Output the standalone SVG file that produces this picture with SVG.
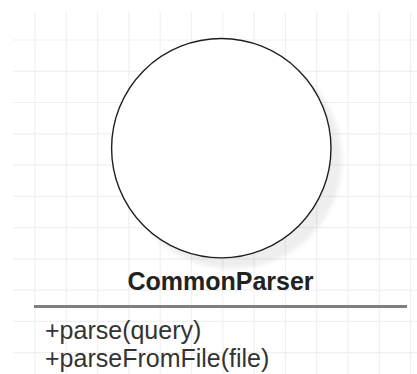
<svg xmlns="http://www.w3.org/2000/svg" width="417" height="374" viewBox="0 0 417 374">
  <style>
    .grid { stroke: #f0f0f0; stroke-width: 1.2; fill: none; }
    .circ { fill: #ffffff; stroke: #1e1e1e; stroke-width: 1.4; }
    .title { font-family: "Liberation Sans", Arial, sans-serif; font-size: 25px; font-weight: bold; fill: #222222; }
    .member { font-family: "Liberation Sans", Arial, sans-serif; font-size: 25px; fill: #333333; }
    .sep { stroke: #7f7f7f; stroke-width: 3; }
  </style>
  <defs>
    <filter id="blur" x="-20%" y="-20%" width="140%" height="140%">
      <feGaussianBlur stdDeviation="2"/>
    </filter>
  </defs>
  <rect width="417" height="374" fill="#ffffff"/>
  <g id="grid">
    <path class="grid" d="M35 12V374M66.3 12V374M97.6 12V374M128.9 12V374M160.2 12V374M191.5 12V374M222.8 12V374M254.1 12V374M285.4 12V374M316.7 12V374M348 12V374M379.3 12V374M410.6 12V374"/>
    <path class="grid" d="M13 40H417M13 71.3H417M13 102.5H417M13 133.8H417M13 165.1H417M13 196.4H417M13 227.6H417M13 258.9H417M13 290.2H417M13 321.4H417M13 352.7H417"/>
  </g>
  <g id="CommonParser">
    <circle cx="232.3" cy="159.2" r="109.7" fill="#000000" fill-opacity="0.065" filter="url(#blur)"/>
    <circle class="circ" cx="221.3" cy="148.2" r="109.7"/>
    <text class="title" x="220.5" y="290" text-anchor="middle">CommonParser</text>
    <line class="sep" x1="34" y1="306.5" x2="407" y2="306.5"/>
    <text class="member" x="45" y="339">+parse(query)</text>
    <text class="member" x="45" y="367">+parseFromFile(file)</text>
  </g>
  <g id="connectors"/>
</svg>
